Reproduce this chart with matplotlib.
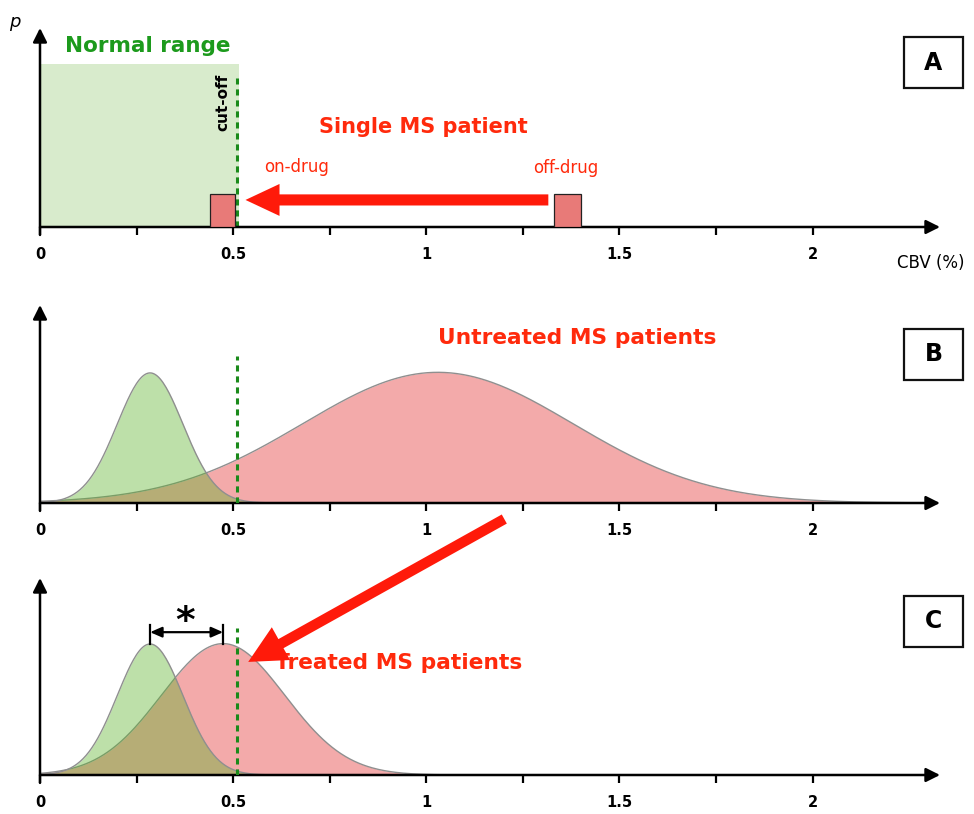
import numpy as np
import matplotlib
matplotlib.use("Agg")
import matplotlib.pyplot as plt
from matplotlib.patches import Rectangle, FancyArrowPatch, ConnectionPatch

plt.rcParams['font.family'] = ['DejaVu Sans']

# x axis ticks (CBV %)
tick_values = [0, 0.25, 0.5, 0.75, 1, 1.25, 1.5, 1.75, 2]
tick_labels = ['0', '', '0.5', '', '1', '', '1.5', '', '2']
x_max = 2.33

cutoff = 0.51
normal_range = [0, 0.515]
normal_height = 0.82

# panel A: single patient bars (left, right, height)
patient_labels = ['on-drug', 'off-drug']
patient_left = [0.44, 1.33]
patient_right = [0.505, 1.40]
patient_height = [0.166, 0.166]

# panels B and C: distributions (mean, sd, peak height)
normal_dist = [0.285, 0.085, 0.657]
untreated_dist = [1.03, 0.35, 0.66]
normal_dist_c = [0.285, 0.085, 0.665]
treated_dist = [0.474, 0.16, 0.667]

RED_TXT = '#ff2a0c'
RED_ARROW = '#ff1a0a'
GREEN_TXT = '#1c9a1c'
GREEN_LINE = '#1a8a1a'
RED_FILL = '#f3aaaa'
GREEN_FILL = (92/255, 178/255, 42/255)

W, H = 974, 814
fig = plt.figure(figsize=(W/100, H/100), dpi=100)


def px(x, y):
    return x / W, 1 - y / H


def make_axes(bottom_px, height_px):
    ax = fig.add_axes([40/W, (H - bottom_px)/H, 900/W, height_px/H])
    ax.set_xlim(0, x_max)
    ax.set_ylim(0, 1)
    for s in ax.spines.values():
        s.set_visible(False)
    ax.set_yticks([])
    ax.set_xticks(tick_values)
    ax.set_xticklabels(tick_labels)
    ax.tick_params(axis='x', direction='out', length=5.5, width=1.6, pad=9,
                   labelsize=10.5)
    for lab in ax.get_xticklabels():
        lab.set_fontweight('bold')
    arrow = dict(arrowstyle='-|>,head_length=0.6,head_width=0.3', color='black',
                 lw=1.8, shrinkA=0, shrinkB=0, mutation_scale=14)
    ax.annotate('', xy=(1, 0), xytext=(0, 0), xycoords='axes fraction',
                arrowprops=arrow, annotation_clip=False)
    ax.annotate('', xy=(0, 1), xytext=(0, -0.04), xycoords='axes fraction',
                arrowprops=arrow, annotation_clip=False)
    return ax


def gauss(params, x):
    m, s, h = params
    return h * np.exp(-0.5 * ((x - m) / s) ** 2)


def panel_box(letter, x0, y0, x1, y1):
    fx0, fy1 = px(x0, y1)
    fx1, fy0 = px(x1, y0)
    fig.patches.append(Rectangle((fx0, fy1), fx1 - fx0, fy0 - fy1,
                                 transform=fig.transFigure, fill=False,
                                 lw=1.6, edgecolor='#111111'))
    fig.text((fx0 + fx1) / 2, (fy0 + fy1) / 2, letter, ha='center', va='center',
             fontsize=17, fontweight='bold')


# ---------- panel A ----------
axA = make_axes(227, 199)
axA.add_patch(Rectangle((normal_range[0], 0), normal_range[1] - normal_range[0],
                        normal_height, color='#d8ebcc', lw=0, zorder=0))
axA.plot([cutoff, cutoff], [0, 0.749], ls=(0, (2, 1.6)), color=GREEN_LINE, lw=2.2)
for l, r, h in zip(patient_left, patient_right, patient_height):
    axA.add_patch(Rectangle((l, 0), r - l, h, facecolor='#e87a78',
                            edgecolor='#222222', lw=0.9, zorder=3))
axA.add_patch(FancyArrowPatch((patient_left[1] - 0.014, 0.136), (patient_right[0] + 0.027, 0.136),
                              arrowstyle='simple,head_length=2.45,head_width=2.3,tail_width=0.8',
                              mutation_scale=10, color=RED_ARROW, lw=0,
                              shrinkA=0, shrinkB=0, zorder=4))
fig.text(*px(15, 22), 'p', fontsize=13, fontstyle='italic', ha='center', va='center')
fig.text(*px(148, 46), 'Normal range', fontsize=15.5, fontweight='bold',
         color=GREEN_TXT, ha='center', va='center')
fig.text(*px(223, 102), 'cut-off', fontsize=11, fontweight='bold', rotation=90,
         ha='center', va='center')
fig.text(*px(423, 127), 'Single MS patient', fontsize=15, fontweight='bold',
         color=RED_TXT, ha='center', va='center')
fig.text(*px(297, 167), patient_labels[0], fontsize=12, color=RED_TXT,
         ha='center', va='center')
fig.text(*px(566, 168), patient_labels[1], fontsize=12, color=RED_TXT,
         ha='center', va='center')
fig.text(*px(931, 263), 'CBV (%)', fontsize=12, ha='center', va='center')
panel_box('A', 904, 37, 963, 88)

# ---------- panel B ----------
axB = make_axes(503, 198)
xs = np.linspace(0, 2.3, 600)
axB.fill_between(xs, gauss(untreated_dist, xs), color=RED_FILL, lw=0, zorder=1)
axB.plot(xs, gauss(untreated_dist, xs), color='#8f8f8f', lw=1, zorder=1)
axB.fill_between(xs, gauss(normal_dist, xs), color=GREEN_FILL, alpha=0.4, lw=0, zorder=2)
axB.plot(xs, gauss(normal_dist, xs), color='#8f8f8f', lw=1, zorder=2)
axB.plot([cutoff, cutoff], [0, 0.742], ls=(0, (2, 1.6)), color=GREEN_LINE, lw=2.2, zorder=3)
fig.text(*px(577, 338), 'Untreated MS patients', fontsize=15.7, fontweight='bold',
         color=RED_TXT, ha='center', va='center')
panel_box('B', 904, 329, 963, 380)

# ---------- panel C ----------
axC = make_axes(775, 197)
axC.fill_between(xs, gauss(treated_dist, xs), color=RED_FILL, lw=0, zorder=1)
axC.plot(xs, gauss(treated_dist, xs), color='#8f8f8f', lw=1, zorder=1)
axC.fill_between(xs, gauss(normal_dist_c, xs), color=GREEN_FILL, alpha=0.4, lw=0, zorder=2)
axC.plot(xs, gauss(normal_dist_c, xs), color='#8f8f8f', lw=1, zorder=2)
axC.plot([cutoff, cutoff], [0, 0.746], ls=(0, (2, 1.6)), color=GREEN_LINE, lw=2.2, zorder=3)
# difference between the peaks
m1, m2 = normal_dist_c[0], treated_dist[0]
axC.annotate('', xy=(m2, 0.725), xytext=(m1, 0.725),
             arrowprops=dict(arrowstyle='<|-|>,head_length=0.5,head_width=0.22',
                             color='black', lw=1.6, shrinkA=0, shrinkB=0,
                             mutation_scale=14))
axC.plot([m1, m1], [normal_dist_c[2], 0.76], color='black', lw=1.6)
axC.plot([m2, m2], [treated_dist[2], 0.76], color='black', lw=1.6)
fig.text(*px(185, 622), '*', fontsize=27, fontweight='bold', ha='center', va='center')
fig.text(*px(399, 663), 'Treated MS patients', fontsize=15.7, fontweight='bold',
         color=RED_TXT, ha='center', va='center')
panel_box('C', 904, 596, 963, 647)

# arrow from untreated to treated
con = ConnectionPatch(xyA=(1.202, -0.081), coordsA=axB.transData,
                      xyB=(0.539, 0.574), coordsB=axC.transData,
                      arrowstyle='simple,head_length=2.7,head_width=2.7,tail_width=0.75',
                      mutation_scale=10, color=RED_ARROW, lw=0,
                      shrinkA=0, shrinkB=0, zorder=10)
fig.add_artist(con)

fig.savefig('out.png', dpi=100)
